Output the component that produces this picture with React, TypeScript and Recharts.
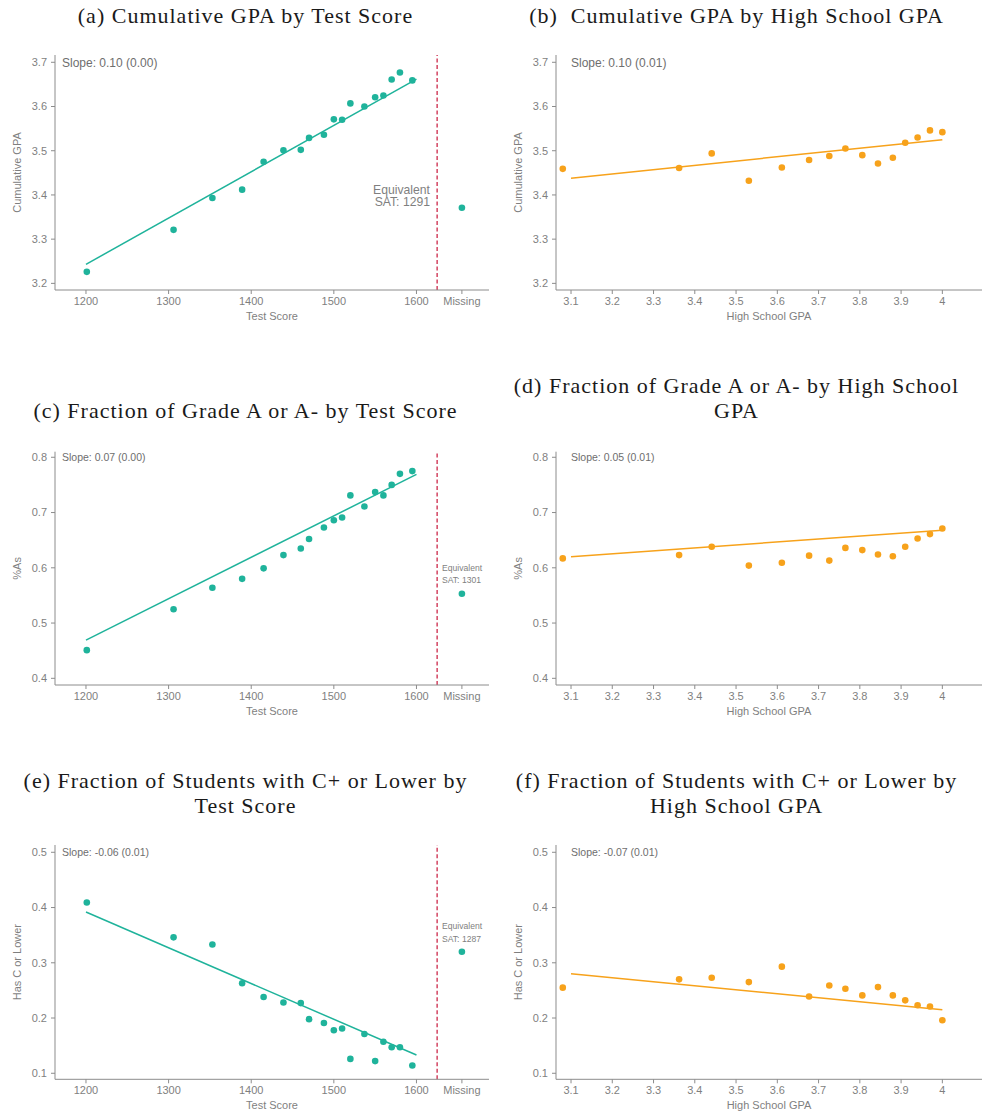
import { ReferenceLine, Scatter, ScatterChart, XAxis, YAxis } from "recharts";

const TEAL = "#1fb39b";
const ORANGE = "#f7a21b";
const AXIS_COLOR = "#8c8c8c";
const TEXT_COLOR = "#7f7f7f";
const CUTOFF_COLOR = "#c8163a";
const SANS = "'Liberation Sans', Arial, sans-serif";
const SERIF = "'Liberation Serif', serif";

// x positions
const testScores = [
  1201, 1306, 1353, 1389, 1415, 1439, 1460, 1470, 1488, 1500, 1510, 1520, 1537,
  1550, 1560, 1570, 1580, 1595,
];
const hsGpa = [
  3.08, 3.362, 3.441, 3.531, 3.611, 3.677, 3.726, 3.765, 3.806, 3.844, 3.88,
  3.91, 3.94, 3.97, 4.0,
];
// "Missing" is drawn as an extra slot to the right of the score axis
const MISSING_SLOT = 1655;
const SCORE_CUTOFF = 1625;

// (a) / (b) cumulative GPA
const cumGpaByScore = [
  3.226, 3.321, 3.393, 3.412, 3.475, 3.501, 3.502, 3.529, 3.536, 3.571, 3.57,
  3.607, 3.6, 3.621, 3.625, 3.661, 3.677, 3.659,
];
const cumGpaMissing = 3.371;
const cumGpaByHs = [
  3.459, 3.461, 3.494, 3.432, 3.462, 3.479, 3.488, 3.505, 3.49, 3.471, 3.484,
  3.518, 3.53, 3.546, 3.542,
];

// (c) / (d) fraction of A or A-
const shareAByScore = [
  0.451, 0.525, 0.564, 0.58, 0.599, 0.623, 0.635, 0.652, 0.673, 0.686, 0.691,
  0.731, 0.711, 0.737, 0.731, 0.75, 0.77, 0.775,
];
const shareAMissing = 0.553;
const shareAByHs = [
  0.617, 0.623, 0.638, 0.604, 0.609, 0.622, 0.613, 0.636, 0.632, 0.624, 0.621,
  0.638, 0.653, 0.661, 0.671,
];

// (e) / (f) share with C+ or lower
const lowGradeByScore = [
  0.409, 0.346, 0.333, 0.263, 0.238, 0.228, 0.227, 0.198, 0.191, 0.178, 0.181,
  0.126, 0.171, 0.122, 0.157, 0.147, 0.147, 0.114,
];
const lowGradeMissing = 0.32;
const lowGradeByHs = [
  0.255, 0.27, 0.273, 0.265, 0.293, 0.239, 0.259, 0.253, 0.241, 0.256, 0.241,
  0.232, 0.223, 0.221, 0.196,
];

// fitted line end points
const scoreFitX = [1200, 1600];
const hsFitX = [3.1, 4.0];
const cumGpaScoreFit = [3.243, 3.662];
const cumGpaHsFit = [3.438, 3.525];
const shareAScoreFit = [0.469, 0.769];
const shareAHsFit = [0.62, 0.668];
const lowGradeScoreFit = [0.392, 0.133];
const lowGradeHsFit = [0.28, 0.215];

const scoreTicks = [1200, 1300, 1400, 1500, 1600, MISSING_SLOT];
const hsTicks = [3.1, 3.2, 3.3, 3.4, 3.5, 3.6, 3.7, 3.8, 3.9, 4.0];
const gpaTicks = [3.2, 3.3, 3.4, 3.5, 3.6, 3.7];
const shareATicks = [0.4, 0.5, 0.6, 0.7, 0.8];
const lowGradeTicks = [0.1, 0.2, 0.3, 0.4, 0.5];

const toPoints = (xs: number[], ys: number[]) =>
  xs.map((x, i) => ({ x, y: ys[i] }));

const Dot = (props: any) => (
  <circle cx={props.cx} cy={props.cy} r={3.3} fill={props.fill} />
);

interface PanelProps {
  left: number;
  top: number;
  plotTop: number;
  plotBottom: number;
  bySchool: boolean;
  ys: number[];
  fitY: number[];
  missingY?: number;
  yDomain: [number, number];
  yTicks: number[];
  yLabel: string;
}

const Panel = ({
  left,
  top,
  plotTop,
  plotBottom,
  bySchool,
  ys,
  fitY,
  missingY,
  yDomain,
  yTicks,
  yLabel,
}: PanelProps) => {
  const xAxisHeight = 36;
  const yAxisWidth = bySchool ? 65 : 55;
  const height = plotBottom + xAxisHeight - top;
  const color = bySchool ? ORANGE : TEAL;
  const xs = bySchool ? hsGpa : testScores;
  const fitX = bySchool ? hsFitX : scoreFitX;
  const tickStyle = { fontSize: 11, fill: TEXT_COLOR, fontFamily: SANS };

  return (
    <div style={{ position: "absolute", left, top }}>
      <ScatterChart
        width={491}
        height={height}
        margin={{ top: plotTop - top, right: bySchool ? 0 : 2, bottom: 0, left: 0 }}
      >
        <XAxis
          type="number"
          dataKey="x"
          domain={bySchool ? [3.0636, 4.0961] : [1162.5, 1687.8]}
          ticks={bySchool ? hsTicks : scoreTicks}
          tickFormatter={(v: number) =>
            v === MISSING_SLOT ? "Missing" : bySchool ? (v === 4 ? "4" : v.toFixed(1)) : String(v)
          }
          allowDataOverflow
          interval={0}
          height={xAxisHeight}
          stroke={AXIS_COLOR}
          tick={tickStyle}
          tickSize={4}
          tickMargin={3}
          label={{
            value: bySchool ? "High School GPA" : "Test Score",
            position: "insideTop",
            offset: 22,
            style: { fontSize: 11, fill: TEXT_COLOR, fontFamily: SANS },
          }}
        />
        <YAxis
          type="number"
          dataKey="y"
          domain={yDomain}
          ticks={yTicks}
          tickFormatter={(v: number) => v.toFixed(1)}
          allowDataOverflow
          interval={0}
          width={yAxisWidth}
          stroke={AXIS_COLOR}
          tick={tickStyle}
          tickSize={4}
          tickMargin={4}
          label={{
            value: yLabel,
            angle: -90,
            position: "insideLeft",
            offset: bySchool ? 27 : 17,
            style: {
              fontSize: 11,
              fill: TEXT_COLOR,
              fontFamily: SANS,
              textAnchor: "middle",
            },
          }}
        />
        {!bySchool && (
          <ReferenceLine
            x={SCORE_CUTOFF}
            stroke={CUTOFF_COLOR}
            strokeWidth={1.2}
            strokeDasharray="4 2.5"
          />
        )}
        <ReferenceLine
          segment={[
            { x: fitX[0], y: fitY[0] },
            { x: fitX[1], y: fitY[1] },
          ]}
          stroke={color}
          strokeWidth={1.5}
        />
        <Scatter
          data={toPoints(xs, ys)}
          fill={color}
          shape={Dot}
          isAnimationActive={false}
        />
        {missingY !== undefined && (
          <Scatter
            data={[{ x: MISSING_SLOT, y: missingY }]}
            fill={color}
            shape={Dot}
            isAnimationActive={false}
          />
        )}
      </ScatterChart>
    </div>
  );
};

const Title = ({ lines, left, top }: { lines: string[]; left: number; top: number }) => (
  <div
    style={{
      position: "absolute",
      left,
      top,
      width: 491,
      textAlign: "center",
      fontFamily: SERIF,
      fontSize: 22,
      letterSpacing: 1,
      lineHeight: "24.5px",
      color: "#1a1a1a",
      whiteSpace: "pre",
    }}
  >
    {lines.map((l) => (
      <div key={l}>{l}</div>
    ))}
  </div>
);

const Note = ({
  text,
  left,
  top,
  size,
  color = "#6e6e6e",
}: {
  text: string;
  left: number;
  top: number;
  size: number;
  color?: string;
}) => (
  <div
    style={{
      position: "absolute",
      left,
      top,
      fontFamily: SANS,
      fontSize: size,
      lineHeight: `${size + 2}px`,
      color,
      whiteSpace: "nowrap",
      transform: "translateY(-50%)",
    }}
  >
    {text}
  </div>
);

const Equivalent = ({
  sat,
  left,
  right,
  top,
  size,
  lineHeight,
}: {
  sat: number;
  left?: number;
  right?: number;
  top: number;
  size: number;
  lineHeight: number;
}) => (
  <div
    style={{
      position: "absolute",
      left,
      right,
      top,
      fontFamily: SANS,
      fontSize: size,
      lineHeight: `${lineHeight}px`,
      color: TEXT_COLOR,
      textAlign: right !== undefined ? "right" : "left",
      whiteSpace: "nowrap",
    }}
  >
    <div>Equivalent</div>
    <div>SAT: {sat}</div>
  </div>
);

export default function App() {
  return (
    <div
      style={{
        position: "absolute",
        left: 0,
        top: 0,
        width: 982,
        height: 1114,
        background: "#fff",
        overflow: "hidden",
      }}
    >
      <Title lines={["(a) Cumulative GPA by Test Score"]} left={0} top={4} />
      <Title lines={["(b)  Cumulative GPA by High School GPA"]} left={491} top={4} />
      <Title lines={["(c) Fraction of Grade A or A- by Test Score"]} left={0} top={399} />
      <Title
        lines={["(d) Fraction of Grade A or A- by High School", "GPA"]}
        left={491}
        top={374}
      />
      <Title
        lines={["(e) Fraction of Students with C+ or Lower by", "Test Score"]}
        left={0}
        top={769}
      />
      <Title
        lines={["(f) Fraction of Students with C+ or Lower by", "High School GPA"]}
        left={491}
        top={769}
      />

      <Panel
        left={0}
        top={40}
        plotTop={55}
        plotBottom={290}
        bySchool={false}
        ys={cumGpaByScore}
        fitY={cumGpaScoreFit}
        missingY={cumGpaMissing}
        yDomain={[3.185, 3.7165]}
        yTicks={gpaTicks}
        yLabel="Cumulative GPA"
      />
      <Panel
        left={491}
        top={40}
        plotTop={55}
        plotBottom={290}
        bySchool
        ys={cumGpaByHs}
        fitY={cumGpaHsFit}
        yDomain={[3.185, 3.7165]}
        yTicks={gpaTicks}
        yLabel="Cumulative GPA"
      />
      <Panel
        left={0}
        top={437}
        plotTop={451.7}
        plotBottom={685}
        bySchool={false}
        ys={shareAByScore}
        fitY={shareAScoreFit}
        missingY={shareAMissing}
        yDomain={[0.3879, 0.8101]}
        yTicks={shareATicks}
        yLabel="%As"
      />
      <Panel
        left={491}
        top={437}
        plotTop={451.7}
        plotBottom={685}
        bySchool
        ys={shareAByHs}
        fitY={shareAHsFit}
        yDomain={[0.3879, 0.8101]}
        yTicks={shareATicks}
        yLabel="%As"
      />
      <Panel
        left={0}
        top={830}
        plotTop={845}
        plotBottom={1079.3}
        bySchool={false}
        ys={lowGradeByScore}
        fitY={lowGradeScoreFit}
        missingY={lowGradeMissing}
        yDomain={[0.0891, 0.5132]}
        yTicks={lowGradeTicks}
        yLabel="Has C or Lower"
      />
      <Panel
        left={491}
        top={830}
        plotTop={845}
        plotBottom={1079.3}
        bySchool
        ys={lowGradeByHs}
        fitY={lowGradeHsFit}
        yDomain={[0.0891, 0.5132]}
        yTicks={lowGradeTicks}
        yLabel="Has C or Lower"
      />

      <Note text="Slope: 0.10 (0.00)" left={62} top={62.7} size={12} />
      <Note text="Slope: 0.10 (0.01)" left={571} top={62.7} size={12} />
      <Note text="Slope: 0.07 (0.00)" left={62} top={457.3} size={10.5} />
      <Note text="Slope: 0.05 (0.01)" left={571} top={457.3} size={10.5} />
      <Note text="Slope: -0.06 (0.01)" left={62} top={852.3} size={10.5} />
      <Note text="Slope: -0.07 (0.01)" left={571} top={852.3} size={10.5} />

      <Equivalent sat={1291} right={982 - 430} top={184} size={12.2} lineHeight={12.3} />
      <Equivalent sat={1301} left={442} top={563} size={8.6} lineHeight={11.7} />
      <Equivalent sat={1287} left={442} top={920} size={8.6} lineHeight={12.6} />
    </div>
  );
}
